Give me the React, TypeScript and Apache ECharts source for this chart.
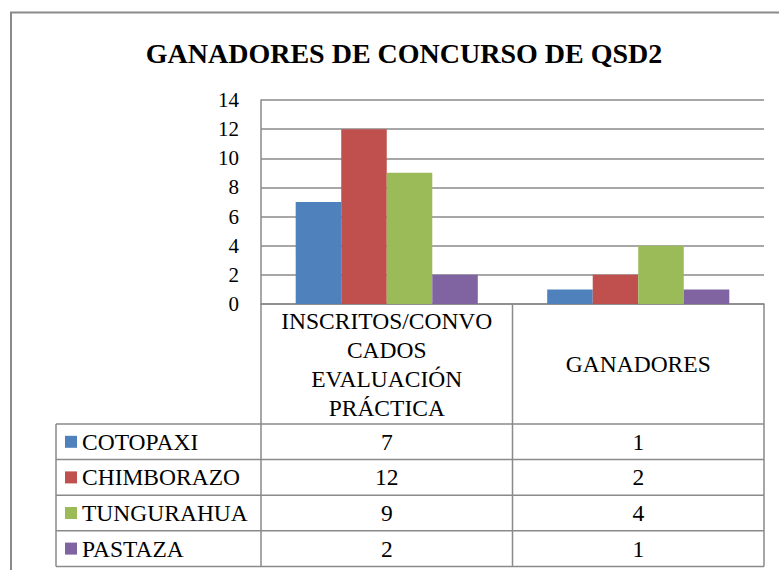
import React, { useEffect, useRef } from "react";
import * as echarts from "echarts";

const TITLE = "GANADORES DE CONCURSO DE QSD2";
const categories = ["INSCRITOS/CONVOCADOS EVALUACIÓN PRÁCTICA", "GANADORES"];
const categoryLabels = ["INSCRITOS/CONVO\nCADOS\nEVALUACIÓN\nPRÁCTICA", "GANADORES"];
const seriesNames = ["COTOPAXI", "CHIMBORAZO", "TUNGURAHUA", "PASTAZA"];
const cotopaxi = [7, 1];
const chimborazo = [12, 2];
const tungurahua = [9, 4];
const pastaza = [2, 1];
const seriesValues = [cotopaxi, chimborazo, tungurahua, pastaza];
const colors = ["#4F81BD", "#C0504D", "#9BBB59", "#8064A2"];
const yMin = 0;
const yMax = 14;
const yInterval = 2;

// layout
const W = 779;
const H = 570;
const PLOT_L = 261;
const PLOT_R = 764;
const PLOT_T = 100;
const PLOT_B = 304;
const HEADER_B = 424;
const ROW_H = 35.6;
const TABLE_L = 56;
const FONT = "Liberation Serif";
const GRAY = "#8a8a8a";

export default function App() {
  const ref = useRef<HTMLDivElement>(null);
  useEffect(() => {
    if (!ref.current) return;
    const chart = echarts.init(ref.current, null, { renderer: "svg" });
    const rowCenters = seriesNames.map((_, i) => HEADER_B + ROW_H * (i + 0.5));
    const tableBottom = HEADER_B + ROW_H * seriesNames.length;
    const midX = (PLOT_L + PLOT_R) / 2;

    const rowAxes = seriesNames.map((_, i) => ({
      type: "category",
      gridIndex: 0,
      position: "bottom",
      offset: rowCenters[i] - PLOT_B,
      data: categories,
      axisLine: { show: false },
      axisTick: { show: false },
      splitLine: { show: false },
      axisLabel: {
        margin: 0,
        verticalAlign: "middle",
        fontSize: 23.5,
        fontFamily: FONT,
        color: "#000",
        interval: 0,
        formatter: (_v: string, idx: number) => String(seriesValues[i][idx]),
      },
    }));

    const legends = seriesNames.map((name, i) => ({
      orient: "vertical",
      left: 65,
      top: HEADER_B + ROW_H * i,
      height: ROW_H,
      itemWidth: 12,
      itemHeight: 12,
      itemGap: 0,
      padding: 0,
      icon: "rect",
      selectedMode: false,
      data: [name],
      textStyle: { fontFamily: FONT, fontSize: 23.5, color: "#000", lineHeight: ROW_H },
    }));

    const lines: any[] = [];
    const hl = (y: number, x1: number, x2: number) =>
      lines.push({ type: "line", shape: { x1, y1: y, x2, y2: y }, style: { stroke: GRAY, lineWidth: 1.5 }, silent: true });
    const vl = (x: number, y1: number, y2: number) =>
      lines.push({ type: "line", shape: { x1: x, y1, x2: x, y2 }, style: { stroke: GRAY, lineWidth: 1.5 }, silent: true });
    for (let i = 0; i <= seriesNames.length; i++) hl(HEADER_B + ROW_H * i, TABLE_L, PLOT_R);
    vl(TABLE_L, HEADER_B, tableBottom);
    vl(PLOT_L, PLOT_B, tableBottom);
    vl(midX, PLOT_B, tableBottom);
    vl(PLOT_R, PLOT_B, tableBottom);

    chart.setOption({
      animation: false,
      backgroundColor: "#fff",
      textStyle: { fontFamily: FONT },
      title: {
        text: TITLE,
        left: 399,
        top: 34,
        textAlign: "center",
        textStyle: { fontFamily: FONT, fontSize: 28, fontWeight: "bold", color: "#000" },
      },
      legend: legends,
      grid: {
        left: PLOT_L,
        top: PLOT_T,
        right: W - PLOT_R,
        bottom: H - PLOT_B,
        containLabel: false,
        outerBoundsMode: "none",
      },
      xAxis: [
        {
          type: "category",
          gridIndex: 0,
          data: categories,
          axisLine: { show: true, lineStyle: { color: GRAY, width: 1.5 } },
          axisTick: { show: false },
          splitLine: { show: false },
          axisLabel: {
            margin: (HEADER_B - PLOT_B) / 2,
            verticalAlign: "middle",
            align: "center",
            fontSize: 23.5,
            lineHeight: 29,
            fontFamily: FONT,
            color: "#000",
            interval: 0,
            formatter: (_v: string, idx: number) => categoryLabels[idx],
          },
        },
        ...rowAxes,
      ],
      yAxis: {
        type: "value",
        min: yMin,
        max: yMax,
        interval: yInterval,
        axisLine: { show: true, lineStyle: { color: GRAY, width: 1.5 } },
        axisTick: { show: false },
        splitLine: { show: true, lineStyle: { color: GRAY, width: 1.5 } },
        axisLabel: { fontSize: 21, fontFamily: FONT, color: "#000", margin: 22 },
      },
      series: seriesNames.map((name, i) => ({
        name,
        type: "bar",
        xAxisIndex: 0,
        data: seriesValues[i],
        barGap: "0%",
        barCategoryGap: "27.6%",
        itemStyle: { color: colors[i] },
      })),
      graphic: [
        {
          type: "rect",
          shape: { x: 11, y: 12.5, width: 900, height: 700 },
          style: { fill: "none", stroke: GRAY, lineWidth: 2 },
          silent: true,
          z: 100,
        },
        ...lines,
      ],
    });
    return () => chart.dispose();
  }, []);
  return <div ref={ref} style={{ position: "fixed", left: 0, top: 0, width: W, height: H }} />;
}
